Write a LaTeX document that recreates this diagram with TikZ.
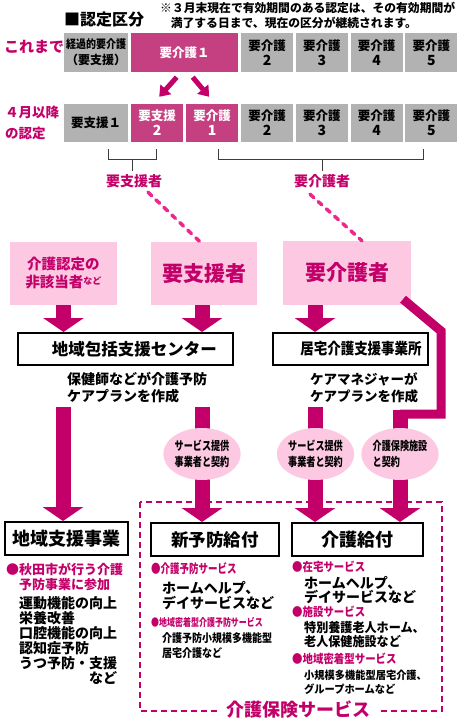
\documentclass[tikz,border=0pt]{standalone}
\usepackage{fontspec}
\setmainfont{Noto Sans CJK JP}
\newfontfamily\condfont{Noto Sans CJK JP}[FakeStretch=0.76]
\newfontfamily\semicond{Noto Sans CJK JP}[FakeStretch=0.87]
\newfontfamily\slightcond{Noto Sans CJK JP}[FakeStretch=0.93]
\usetikzlibrary{arrows.meta,shapes.geometric}

\definecolor{kaigomag}{RGB}{195,0,105}
\definecolor{boxmag}{RGB}{197,64,128}
\definecolor{softpink}{RGB}{252,200,226}
\definecolor{dashpink}{RGB}{236,40,140}
\definecolor{gradegray}{RGB}{178,178,178}
\definecolor{bracketgray}{RGB}{60,60,60}

\newcommand\fsz[2]{\fontsize{#1}{#2}\selectfont\bfseries}

\begin{document}
\begin{tikzpicture}[x=1pt,y=-1pt,
    grade/.style={fill=gradegray,minimum height=39pt,inner sep=0pt,align=center,anchor=west,font=\fsz{12.5}{15}},
    gradehi/.style={grade,fill=boxmag,text=white},
    pinkbox/.style={fill=softpink,inner sep=0pt,align=center,text=kaigomag},
    office/.style={draw=black,line width=2pt,fill=white,minimum height=32pt,inner sep=0pt,font=\fsz{16.5}{18}},
    bigarrow/.style={draw=kaigomag,line width=15pt,-{Triangle[width=40pt,length=14pt]}},
    shiftarrow/.style={draw=kaigomag,line width=5pt,-{Triangle[width=14pt,length=10pt]}},
    contract/.style={ellipse,fill=softpink,minimum width=77pt,minimum height=52pt,inner sep=0pt,align=center,font=\condfont\fsz{12}{16}},
    bracket/.style={draw=bracketgray,line width=1pt},
    dashlink/.style={draw=dashpink,line width=3.5pt,dash pattern=on 5pt off 6pt,line cap=round},
    servicebox/.style={draw=kaigomag,line width=1.5pt,dash pattern=on 6pt off 4pt},
    heading/.style={text=kaigomag,anchor=west,inner sep=0pt,align=left},
    body/.style={anchor=west,inner sep=0pt,align=left}]
    \useasboundingbox (0,0) rectangle (461,724);

    \node[anchor=west,inner sep=0pt,font=\fsz{16}{17}] (title) at (64,19.5) {■認定区分};
    \node[anchor=west,inner sep=0pt,align=left,font=\fsz{11.8}{15}] (note) at (160,15.5)
        {※３月末現在で有効期間のある認定は、その有効期間が\\\hspace*{0.9em}満了する日まで、現在の区分が継続されます。};

    % current grades
    \node[anchor=west,inner sep=0pt,text=kaigomag,font=\fsz{15}{16}] (before) at (4,47) {これまで};
    \node[grade,minimum width=64pt,font=\semicond\fsz{11.5}{16}] (old0) at (64,52.5) {経過的要介護\\{\rmfamily\fsz{12}{16}（要支援）}};
    \node[gradehi,minimum width=107pt] (old1) at (131,52.5) {要介護１};
    \foreach \n [count=\i from 0] in {2,...,5}
        \node[grade,minimum width=52pt] (old\n) at (241+54.7*\i,52.5) {要介護\\{\fsz{14}{15}\n}};

    % grades from April
    \node[anchor=west,inner sep=0pt,align=left,text=kaigomag,font=\fsz{13.5}{21}] (after) at (5,122.5) {４月以降\\の認定};
    \node[grade,minimum width=64pt,minimum height=38pt] (sup1) at (64,123) {要支援１};
    \node[gradehi,minimum width=52pt,minimum height=38pt] (sup2) at (131,123) {要支援\\{\fsz{14}{15}2}};
    \node[gradehi,minimum width=52pt,minimum height=38pt] (care1) at (186,123) {要介護\\{\fsz{14}{15}1}};
    \foreach \n [count=\i from 0] in {2,...,5}
        \node[grade,minimum width=52pt,minimum height=38pt] (care\n) at (241+54.7*\i,123) {要介護\\{\fsz{14}{15}\n}};

    \draw[shiftarrow] ([xshift=-8pt,yshift=-5pt]old1.south) -- ([xshift=2pt,yshift=7pt]sup2.north);
    \draw[shiftarrow] ([xshift=8pt,yshift=-5pt]old1.south) -- ([xshift=-3pt,yshift=7pt]care1.north);

    % brackets
    \node[text=kaigomag,font=\fsz{14}{16}] (supLabel) at (134,181) {要支援者};
    \node[text=kaigomag,font=\fsz{14}{16}] (careLabel) at (322,181) {要介護者};
    \draw[bracket] (108,149) -- (108,159) -- (156,159) -- (156,149);
    \draw[bracket] (218,149) -- (218,159) -- (423,159) -- (423,149);
    \coordinate (supMid) at (132,159);
    \coordinate (careMid) at (322,159);
    \draw[bracket] (supMid) -- (supMid |- supLabel.north);
    \draw[bracket] (careMid) -- (careMid |- careLabel.north);

    % who goes where
    \node[pinkbox,minimum width=107pt,minimum height=63pt,font=\fsz{14.5}{18}] (nonApp) at (63.5,273.5)
        {介護認定の\\非該当者\raisebox{3pt}{\fsz{9}{9}など}};
    \node[pinkbox,minimum width=106pt,minimum height=63pt,font=\fsz{21}{24}] (needSup) at (204,273.5) {要支援者};
    \node[pinkbox,minimum width=128pt,minimum height=64pt,font=\fsz{21}{24}] (needCare) at (347,273) {要介護者};
    \draw[dashlink] ([xshift=14pt,yshift=-1pt]supLabel.south) -- ([xshift=-4pt]needSup.north);
    \draw[dashlink] ([xshift=-12pt,yshift=-3pt]careLabel.south) -- ([xshift=15pt]needCare.north);

    \node[office,minimum width=215pt] (hokatsu) at (125.5,349) {\hspace*{18pt}地域包括支援センター};
    \node[office,minimum width=155pt,font=\semicond\fsz{15.5}{18}] (kyotaku) at (350.5,349) {\hspace*{21pt}居宅介護支援事業所};
    \node[body,font=\fsz{14}{17}] (hokatsuPlan) at (67,387.5) {保健師などが介護予防\\ケアプランを作成};
    \node[body,font=\fsz{13.5}{17}] (kyotakuPlan) at (310,387.5) {ケアマネジャーが\\ケアプランを作成};

    \node[office,minimum width=123pt,minimum height=33pt,font=\fsz{18}{20}] (chiiki) at (66.5,538.5) {地域支援事業};
    \node[office,minimum width=128pt,minimum height=33pt,font=\fsz{17.5}{20}] (yobo) at (215,539.5) {新予防給付};
    \node[office,minimum width=131pt,minimum height=33pt,font=\fsz{18}{20}] (kyufu) at (357.5,539.5) {介護給付};

    \draw[servicebox] (140,502) rectangle (442,711);
    \node[fill=white,text=kaigomag,font=\fsz{18}{20},inner xsep=6pt,inner ysep=1pt] (serviceLabel) at (298.5,710) {介護保険サービス};

    % arrows
    \coordinate (careDrop) at ([xshift=-32pt]needCare.south);
    \coordinate (planLeft) at (63,407);
    \coordinate (planMid) at (202,407);
    \coordinate (planRight) at (315,407);
    \coordinate (facilityTurn) at (400,410);
    \draw[bigarrow] (nonApp.south) -- (nonApp.south |- hokatsu.north);
    \draw[bigarrow] ([xshift=-2pt]needSup.south) -- ([xshift=-2pt]needSup.south |- hokatsu.north);
    \draw[bigarrow] (careDrop) -- (careDrop |- kyotaku.north);
    \draw[bigarrow] (planLeft) -- (planLeft |- chiiki.north);
    \draw[bigarrow] (planMid) -- (planMid |- yobo.north);
    \draw[bigarrow] (planRight) -- (planRight |- kyufu.north);
    \draw[draw=kaigomag,line width=9pt,line join=miter] ([xshift=56pt,yshift=6pt]needCare.south) -- (441,331) -- (441,414) -- (400,414);
    \draw[bigarrow] (facilityTurn) -- (facilityTurn |- kyufu.north);

    \node[contract] (contractMid) at (202,454) {サービス提供\\事業者と契約};
    \node[contract] (contractRight) at (315.5,454) {サービス提供\\事業者と契約};
    \node[contract,align=left] (contractFacility) at (400,454) {介護保険施設\\と契約};

    % contents
    \node[heading,font=\fsz{13}{15}] (akitaHead) at (6,576.5) {●秋田市が行う介護\\\hspace*{1em}予防事業に参加};
    \node[body,font=\fsz{14}{15}] (akitaBody) at (19,640)
        {運動機能の向上\\栄養改善\\口腔機能の向上\\認知症予防\\うつ予防・支援\\\hspace*{5em}など};

    \node[heading,font=\condfont\fsz{12.5}{14}] (yoboHead) at (151,569) {●介護予防サービス};
    \node[body,font=\fsz{14}{15}] (yoboBody) at (162,595.5) {ホームヘルプ、\\デイサービスなど};
    \node[heading,font=\condfont\fsz{10.5}{12}] (yoboLocalHead) at (151,622) {●地域密着型介護予防サービス};
    \node[body,font=\semicond\fsz{11.5}{15}] (yoboLocalBody) at (162,645.5) {介護予防小規模多機能型\\居宅介護など};

    \node[heading,font=\semicond\fsz{12}{14}] (homeHead) at (292,567) {●在宅サービス};
    \node[body,font=\fsz{14}{14}] (homeBody) at (304,590) {ホームヘルプ、\\デイサービスなど};
    \node[heading,font=\semicond\fsz{12}{14}] (facilityHead) at (292,612) {●施設サービス};
    \node[body,font=\slightcond\fsz{13}{14}] (facilityBody) at (304,635) {特別養護老人ホーム、\\老人保健施設など};
    \node[heading,font=\semicond\fsz{12}{14}] (localHead) at (292,659) {●地域密着型サービス};
    \node[body,font=\slightcond\fsz{11}{14}] (localBody) at (304,682) {小規模多機能型居宅介護、\\グループホームなど};
\end{tikzpicture}
\end{document}
